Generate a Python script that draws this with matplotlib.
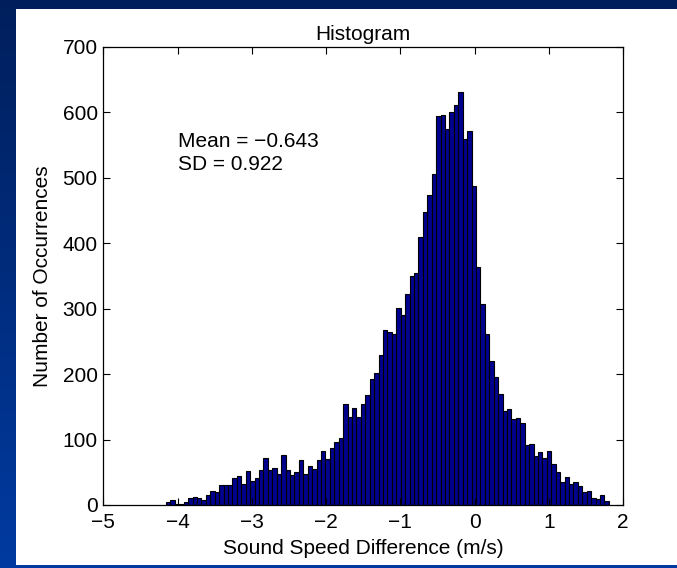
import matplotlib
matplotlib.use("Agg")
import matplotlib.pyplot as plt
import numpy as np
from matplotlib.patches import Rectangle

plt.rcParams['font.family'] = ['Liberation Sans', 'DejaVu Sans']

# Histogram of sound speed differences: 100 equal bins between lo and hi
bin_lo = -4.155
bin_hi = 1.81
counts = [
    4, 7, 2, 1, 4, 11, 12, 11, 8, 16,
    21, 20, 30, 30, 31, 42, 45, 32, 52, 37,
    42, 54, 72, 54, 56, 47, 77, 54, 46, 50,
    69, 47, 59, 55, 69, 82, 70, 87, 97, 102,
    154, 135, 149, 135, 154, 168, 192, 202, 229, 267,
    265, 261, 301, 290, 323, 350, 355, 410, 448, 474,
    506, 595, 596, 574, 600, 611, 631, 559, 572, 487,
    363, 307, 261, 220, 195, 169, 144, 147, 131, 133,
    126, 92, 93, 75, 81, 72, 82, 63, 51, 35,
    43, 32, 35, 29, 20, 22, 10, 9, 15, 6,
]
x_ticks = [-5, -4, -3, -2, -1, 0, 1, 2]
y_ticks = [0, 100, 200, 300, 400, 500, 600, 700]
stats_lines = ["Mean = \u22120.643", "SD = 0.922"]

W, H = 677, 568
fig = plt.figure(figsize=(W / 100, H / 100), dpi=100)

# slide-style blue gradient background with white panel
bg = fig.add_axes([0, 0, 1, 1], zorder=-10)
grad = np.linspace(0, 1, 256).reshape(-1, 1)
top_c = np.array([0.0, 0.12, 0.36])
bot_c = np.array([0.0, 0.23, 0.63])
img = top_c + grad[..., None] * (bot_c - top_c)
bg.imshow(img, aspect='auto', extent=[0, 1, 0, 1], origin='upper')
bg.add_patch(Rectangle((16 / W, 3 / H), 1 - 16 / W, 1 - 12 / H,
                       facecolor='white', edgecolor='none'))
bg.set_xlim(0, 1)
bg.set_ylim(0, 1)
bg.axis('off')

ax = fig.add_axes([103.3 / W, (H - 505) / H, 519.7 / W, 458 / H])

edges = np.linspace(bin_lo, bin_hi, len(counts) + 1)
ax.bar(edges[:-1], counts, width=np.diff(edges), align='edge',
       color='#00008F', edgecolor='black', linewidth=0.8)

ax.set_xlim(-5, 2)
ax.set_ylim(0, 700)
ax.set_xticks(x_ticks)
ax.set_xticklabels([str(t).replace('-', '\u2212') for t in x_ticks])
ax.set_yticks(y_ticks)
ax.tick_params(direction='in', length=5, width=0.8, labelsize=15,
               top=True, right=True)
ax.tick_params(axis='x', pad=6)
ax.tick_params(axis='y', pad=4)
for lbl in ax.get_yticklabels():
    lbl.set_va('center_baseline')
for s in ax.spines.values():
    s.set_linewidth(0.9)

ax.set_title("Histogram", fontsize=15, pad=5)
ax.set_xlabel("Sound Speed Difference (m/s)", fontsize=15, labelpad=5)
ax.set_ylabel("Number of Occurrences", fontsize=15, labelpad=8)

ax.text(-4.0, 555, stats_lines[0], fontsize=15, va='center', ha='left')
ax.text(-4.0, 521, stats_lines[1], fontsize=15, va='center', ha='left')

fig.savefig("out.png", dpi=100)
